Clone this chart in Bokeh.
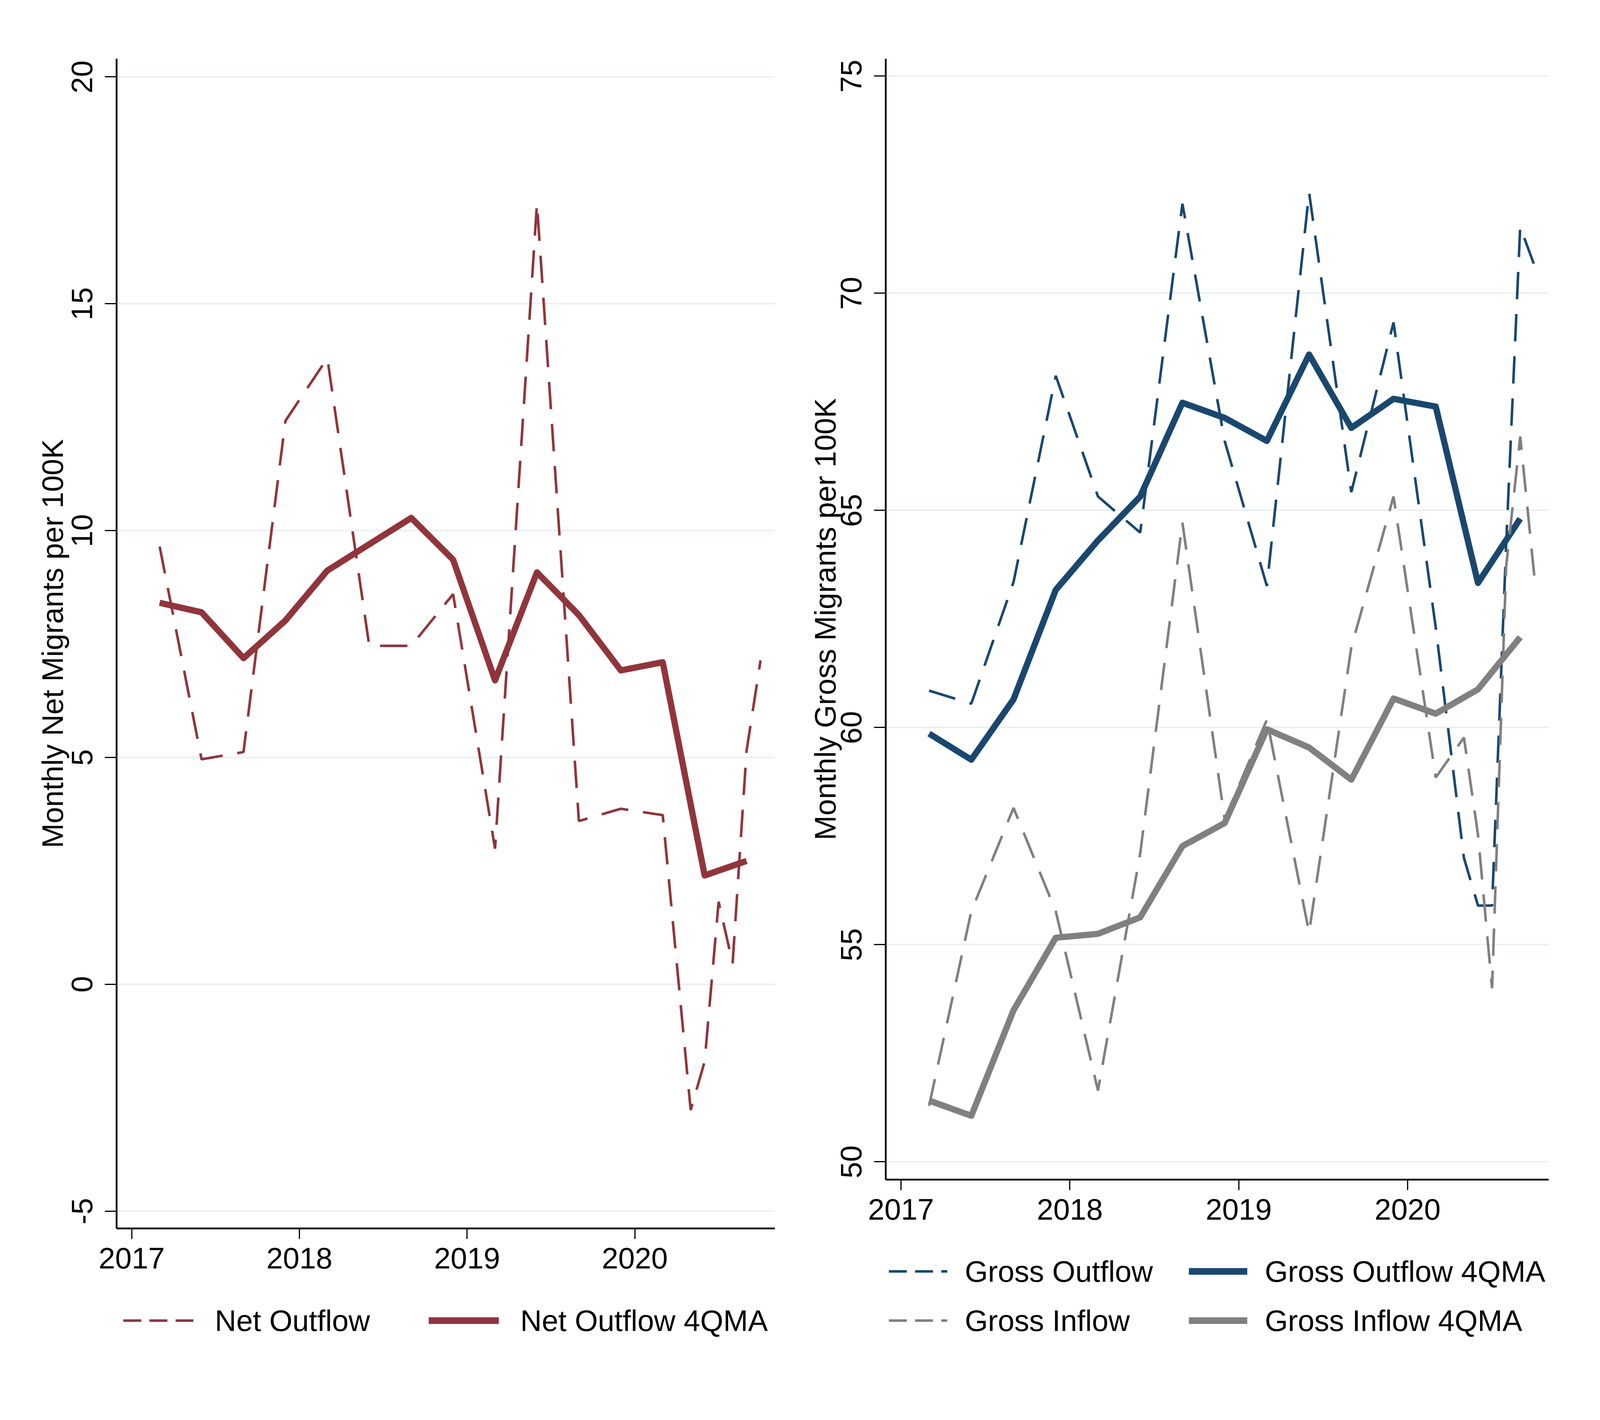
from bokeh.plotting import figure
from bokeh.models import Legend, LegendItem, FixedTicker, Range1d
from bokeh.layouts import row, column
from bokeh.embed import file_html
from bokeh.resources import INLINE

# observation dates: quarterly (end-of-quarter month) up to 2020Q1, monthly after
obs_months = ["2017-03", "2017-06", "2017-09", "2017-12",
              "2018-03", "2018-06", "2018-09", "2018-12",
              "2019-03", "2019-06", "2019-09", "2019-12",
              "2020-03", "2020-05", "2020-06", "2020-07",
              "2020-08", "2020-09", "2020-10"]
# dates of the 4-quarter moving averages
ma_months = ["2017-03", "2017-06", "2017-09", "2017-12",
             "2018-03", "2018-06", "2018-09", "2018-12",
             "2019-03", "2019-06", "2019-09", "2019-12",
             "2020-03", "2020-06", "2020-09"]

net_outflow = [9.65, 4.96, 5.12, 12.42, 13.80, 7.46, 7.46, 8.60, 2.99, 17.21,
               3.60, 3.87, 3.73, -2.77, -1.70, 1.82, 0.46, 5.15, 7.14]
net_outflow_ma = [8.41, 8.20, 7.19, 8.02, 9.12, 9.70, 10.28, 9.36, 6.70, 9.08,
                  8.14, 6.92, 7.10, 2.40, 2.72]

gross_outflow = [60.85, 60.55, 63.35, 68.10, 65.32, 64.49, 72.06, 66.60, 63.26, 72.32,
                 65.42, 69.33, 62.30, 57.00, 55.90, 55.90, 64.20, 71.53, 70.65]
gross_outflow_ma = [59.86, 59.26, 60.65, 63.17, 64.31, 65.32, 67.48, 67.13, 66.60, 68.59,
                    66.90, 67.57, 67.39, 63.33, 64.81]
gross_inflow = [51.29, 55.77, 58.15, 55.77, 51.64, 57.10, 64.72, 57.89, 60.18, 55.28,
                61.85, 65.32, 58.85, 59.77, 57.54, 54.00, 63.70, 66.70, 63.50]
gross_inflow_ma = [51.41, 51.06, 53.49, 55.16, 55.25, 55.63, 57.27, 57.80, 59.96, 59.54,
                   58.80, 60.67, 60.32, 60.88, 62.08]

year_ticks = [2017, 2018, 2019, 2020]
net_ticks = [-5, 0, 5, 10, 15, 20]
gross_ticks = [50, 55, 60, 65, 70, 75]

MAROON = "#90353B"
NAVY = "#1A476F"
GRAY = "#808080"
FONT = "Liberation Sans"
FS = "76px"
DASH = "70 38"
KEY_DASH = "46 21"


def to_year(m):
    y, mo = m.split("-")
    return int(y) + (int(mo) - 1) / 12


x_obs = [to_year(m) for m in obs_months]
x_ma = [to_year(m) for m in ma_months]


def make_panel(ylabel, yrange, yticks, fw, fh, bl, br, title_gap):
    p = figure(frame_width=fw, frame_height=fh,
               x_range=Range1d(2016.91, 2020.835), y_range=Range1d(*yrange),
               toolbar_location=None, tools="", output_backend="svg",
               min_border_left=bl, min_border_right=br, min_border_top=150,
               min_border_bottom=160)
    p.outline_line_color = None
    p.background_fill_color = "white"
    p.border_fill_color = "white"
    p.xgrid.grid_line_color = None
    p.ygrid.grid_line_color = "#EAF0F1"
    p.ygrid.grid_line_width = 4

    p.xaxis.ticker = FixedTicker(ticks=year_ticks)
    p.xaxis.major_label_overrides = {t: str(t) for t in year_ticks}
    p.yaxis.ticker = FixedTicker(ticks=yticks)
    p.yaxis.major_label_overrides = {t: str(t) for t in yticks}
    p.yaxis.major_label_orientation = "vertical"
    p.yaxis.axis_label = ylabel

    for ax in p.axis:
        ax.axis_line_color = "black"
        ax.axis_line_width = 4.5
        ax.major_tick_line_color = "black"
        ax.major_tick_line_width = 3
        ax.major_tick_in = 0
        ax.minor_tick_line_color = None
        ax.major_label_text_font = FONT
        ax.major_label_text_font_size = FS
        ax.major_label_text_color = "black"
        ax.axis_label_text_font = FONT
        ax.axis_label_text_font_size = FS
        ax.axis_label_text_font_style = "normal"
        ax.axis_label_text_color = "black"
    p.xaxis.major_tick_out = 27
    p.xaxis.major_label_standoff = 22
    p.yaxis.major_tick_out = 30
    p.yaxis.major_label_standoff = 32
    p.yaxis.axis_label_standoff = title_gap
    return p


def legend_box(width, height, entries, loc, glyph_w, standoff, spacing,
               ncols=None, label_width=20):
    # a bare figure that only carries the legend under a panel
    # (its frame lines up with the frame of the panel above it)
    lf = figure(width=width, height=height, min_border=0,
                x_range=Range1d(0, 1), y_range=Range1d(0, 1),
                toolbar_location=None, tools="", output_backend="svg")
    lf.axis.visible = False
    lf.grid.visible = False
    lf.outline_line_color = None
    items = []
    for label, color, lw, dash in entries:
        # key renderer kept outside the visible range, only its legend glyph shows
        r = lf.line([5, 6], [5, 6], line_color=color, line_width=lw, line_dash=dash)
        items.append(LegendItem(label=label, renderers=[r]))
    leg = Legend(items=items, location=loc, orientation="horizontal")
    if ncols:
        leg.ncols = ncols
    leg.border_line_color = None
    leg.background_fill_alpha = 0
    leg.label_text_font = FONT
    leg.label_text_font_size = FS
    leg.label_text_color = "black"
    leg.glyph_width = glyph_w
    leg.glyph_height = 88
    leg.label_height = 88
    leg.label_width = label_width
    leg.label_standoff = standoff
    leg.spacing = spacing
    leg.margin = 0
    leg.padding = 0
    lf.add_layout(leg)
    return lf


# left panel: net migration
p1 = make_panel("Monthly Net Migrants per 100K", (-5.38, 20.40), net_ticks,
                1685, 2995, 298, 65, 4)
p1.line(x_obs, net_outflow, line_color=MAROON, line_width=6.5, line_dash=DASH)
p1.line(x_ma, net_outflow_ma, line_color=MAROON, line_width=16, line_join="round")
lf1 = legend_box(2048, 200,
                 [("Net Outflow", MAROON, 6.5, KEY_DASH),
                  ("Net Outflow 4QMA", MAROON, 17, "solid")],
                 (17, 80), glyph_w=180, standoff=55, spacing=150)

# right panel: gross flows
p2 = make_panel("Monthly Gross Migrants per 100K", (49.59, 75.40), gross_ticks,
                1697, 2870, 219, 116, -5)
p2.line(x_obs, gross_outflow, line_color=NAVY, line_width=6.5, line_dash=DASH)
p2.line(x_ma, gross_outflow_ma, line_color=NAVY, line_width=16, line_join="round")
p2.line(x_obs, gross_inflow, line_color=GRAY, line_width=6.5, line_dash=DASH)
p2.line(x_ma, gross_inflow_ma, line_color=GRAY, line_width=16, line_join="round")
lf2 = legend_box(2032, 330,
                 [("Gross Outflow", NAVY, 6.5, KEY_DASH),
                  ("Gross Outflow 4QMA", NAVY, 17, "solid"),
                  ("Gross Inflow", GRAY, 6.5, KEY_DASH),
                  ("Gross Inflow 4QMA", GRAY, 17, "solid")],
                 (8, 85), glyph_w=150, standoff=45, spacing=38,
                 ncols=2, label_width=535)

layout = row(column(p1, lf1), column(p2, lf2))
open("out.html", "w").write(file_html(layout, INLINE))
